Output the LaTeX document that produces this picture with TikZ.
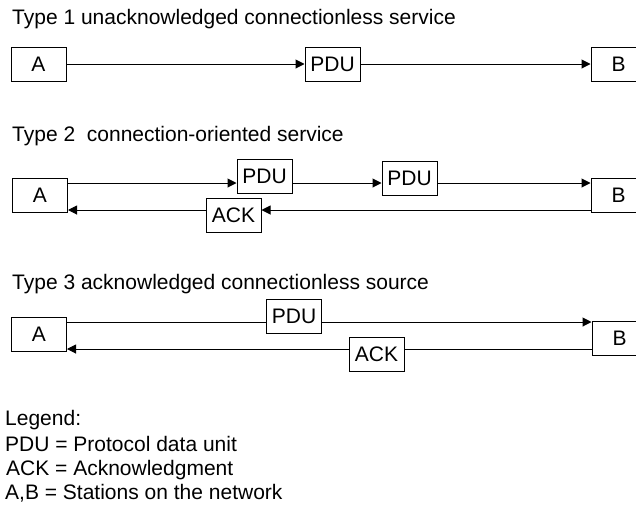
\documentclass[tikz,border=0pt]{standalone}
\usepackage{fontspec}
\setmainfont{Liberation Sans}
\usetikzlibrary{arrows.meta}
\begin{document}
\begin{tikzpicture}[x=1pt,y=-1pt,
  box/.style={draw, line width=1pt, minimum width=55pt, minimum height=34pt, inner sep=0pt, fill=white, font=\fontsize{21}{25}\selectfont},
  lbl/.style={anchor=base west, inner sep=0pt, font=\fontsize{21}{25}\selectfont},
  ln/.style={line width=1pt},
  arr/.style={line width=1pt, -{Triangle[length=9pt,width=9pt]}}]
\useasboundingbox (0,0) rectangle (636,509);
% titles
\node[lbl] (t1) at (12,24) {Type 1 unacknowledged connectionless service};
\node[lbl] (t2) at (12,141) {Type 2 \ connection-oriented service};
\node[lbl] (t3) at (12,289) {Type 3 acknowledged connectionless source};
% row 1
\node[box] (A1) at (38.5,64) {A};
\node[box] (P1) at (332.5,64) {PDU};
\node[box] (B1) at (618.5,64) {B};
\draw[arr] (A1) -- (P1);
\draw[arr] (P1) -- (B1);
% row 2
\node[box] (A2) at (40,195.5) {A};
\node[box] (P21) at (264.5,176) {PDU};
\node[box] (P22) at (409.5,178) {PDU};
\node[box] (K2) at (233.5,215) {ACK};
\node[box] (B2) at (618.5,195) {B};
\coordinate (u2) at (0,183);
\coordinate (l2) at (0,210);
\draw[arr] (A2.east |- u2) -- (P21.west |- u2);
\draw[arr] (P21.east |- u2) -- (P22.west |- u2);
\draw[arr] (P22.east |- u2) -- (B2.west |- u2);
\draw[arr] (B2.west |- l2) -- (K2.east |- l2);
\draw[arr] (K2.west |- l2) -- (A2.east |- l2);
% row 3
\node[box] (A3) at (39,334) {A};
\node[box] (P3) at (294,316) {PDU};
\node[box] (K3) at (376.5,354.5) {ACK};
\node[box] (B3) at (619.5,338) {B};
\coordinate (u3) at (0,322);
\coordinate (l3) at (0,349);
\draw[ln] (A3.east |- u3) -- (P3.west |- u3);
\draw[arr] (P3.east |- u3) -- (B3.west |- u3);
\draw[ln] (B3.west |- l3) -- (K3.east |- l3);
\draw[arr] (K3.west |- l3) -- (A3.east |- l3);
% legend
\node[lbl] (g0) at (5,425) {Legend:};
\node[lbl] (g1) at (5,451) {PDU = Protocol data unit};
\node[lbl] (g2) at (6,475) {ACK = Acknowledgment};
\node[lbl] (g3) at (5,499) {A,B = Stations on the network};
\end{tikzpicture}
\end{document}
